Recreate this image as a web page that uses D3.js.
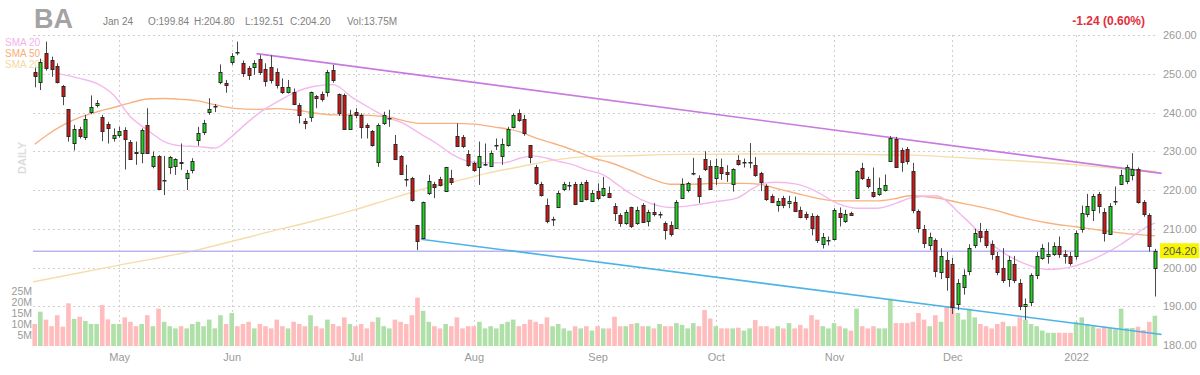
<!DOCTYPE html>
<html>
<head>
<meta charset="utf-8">
<script src="https://cdn.jsdelivr.net/npm/d3@7"></script>
<style>
  body { margin: 0; background: #fff; }
  svg { font-family: Arial, "Liberation Sans", sans-serif; }
</style>
</head>
<body>
<svg id="chart" width="1200" height="375"></svg>
<script>
// BA daily, Apr 12 2021 .. Jan 24 2022 (one entry per trading day)

// x axis: month labels and the trading-day index where each month starts
const months = ["May", "Jun", "Jul", "Aug", "Sep", "Oct", "Nov", "Dec", "2022"];
const monthIdx = [15, 35, 57, 78, 100, 121, 142, 163, 185];

const priceTicks = [180, 190, 200, 210, 220, 230, 240, 250, 260];
const volTicks = [5, 10, 15, 20, 25];

const opens = [
  250.5, 248.0, 255.3, 253.5, 252.0, 246.8, 240.8, 232.2, 235.8, 233.6,
  240.1, 241.9, 238.9, 237.0, 233.4, 234.1, 235.5, 232.4, 229.7, 229.5,
  236.8, 226.2, 228.8, 222.6, 225.9, 226.2, 227.3, 223.0, 225.2, 232.9,
  234.8, 240.0, 241.5, 248.0, 247.5, 253.1, 255.7, 252.9, 251.6, 251.6,
  253.7, 251.1, 251.8, 250.5, 246.5, 245.3, 245.4, 241.9, 237.9, 238.8,
  244.3, 244.8, 245.4, 251.0, 244.8, 244.5, 235.9, 240.2, 239.4, 236.8,
  235.1, 227.3, 237.4, 238.5, 232.0, 228.8, 222.8, 223.0, 211.0, 207.8,
  219.3, 221.6, 222.8, 219.7, 223.0, 233.9, 233.6, 229.3, 227.0, 226.0,
  226.6, 226.2, 231.4, 228.8, 231.6, 236.4, 239.8, 238.2, 231.6, 226.0,
  221.5, 216.1, 212.4, 215.7, 220.2, 221.3, 221.5, 217.2, 222.1, 217.2,
  219.8, 218.7, 219.3, 216.0, 213.5, 211.5, 215.5, 211.5, 216.2, 212.1,
  214.4, 213.6, 211.5, 211.0, 210.3, 218.0, 219.8, 224.4, 223.2, 228.1,
  226.2, 223.2, 226.0, 224.7, 221.5, 227.7, 227.0, 227.0, 226.4, 224.3,
  221.1, 218.5, 216.2, 217.9, 216.6, 216.8, 214.9, 213.8, 213.4, 213.2,
  206.3, 207.1, 207.5, 214.0, 211.9, 214.0, 218.0, 225.6, 222.8, 219.6,
  219.1, 220.0, 227.4, 233.2, 230.3, 230.7, 225.0, 214.5, 210.0, 206.0,
  207.0, 199.0, 202.0, 201.0, 190.5, 195.0, 199.0, 206.0, 209.5, 209.5,
  206.0, 203.0, 200.0, 197.0, 201.0, 196.0, 190.0, 191.0, 198.0, 202.5,
  203.0, 203.5, 205.5, 203.5, 203.0, 203.0, 210.0, 214.0, 215.0, 219.0,
  214.2, 208.8, 217.0, 221.7, 222.5, 224.0, 225.5, 217.0, 213.5, 199.84
];
const highs = [
  251.6, 253.9, 258.3, 254.4, 252.7, 247.1, 240.9, 236.8, 236.3, 239.4,
  244.4, 243.2, 239.4, 237.6, 235.9, 236.3, 236.2, 232.9, 232.5, 235.9,
  241.1, 229.9, 229.0, 228.8, 228.8, 228.2, 232.0, 225.2, 228.2, 236.3,
  238.1, 243.7, 242.2, 252.4, 248.4, 255.3, 258.3, 253.4, 252.0, 253.5,
  254.8, 252.7, 254.8, 251.4, 248.8, 248.4, 246.2, 242.4, 238.5, 245.4,
  244.5, 245.4, 251.0, 252.3, 244.9, 244.9, 240.7, 241.1, 239.8, 237.2,
  235.5, 237.2, 240.2, 240.7, 234.2, 229.0, 226.5, 223.4, 211.0, 217.0,
  223.9, 222.1, 223.4, 226.0, 225.2, 237.2, 234.2, 230.3, 227.3, 232.5,
  232.0, 230.2, 233.3, 233.3, 236.3, 239.8, 240.8, 239.4, 231.6, 226.5,
  222.1, 217.8, 213.1, 219.8, 222.1, 222.1, 222.1, 222.1, 222.6, 220.0,
  221.7, 223.4, 220.9, 216.6, 214.0, 214.9, 215.7, 215.7, 216.6, 214.9,
  216.6, 214.4, 211.9, 211.9, 217.4, 223.0, 222.1, 228.3, 223.8, 230.0,
  227.7, 228.1, 228.1, 226.4, 225.6, 229.0, 228.1, 232.1, 228.5, 224.7,
  221.5, 218.9, 217.9, 218.5, 218.5, 218.3, 215.7, 214.4, 214.0, 213.6,
  208.9, 208.0, 215.3, 215.5, 214.9, 214.4, 225.1, 227.0, 223.4, 225.8,
  223.2, 224.0, 233.9, 233.7, 230.9, 231.1, 227.0, 215.0, 211.0, 209.0,
  207.5, 205.0, 204.0, 202.5, 197.0, 199.5, 206.0, 210.0, 211.5, 210.0,
  207.0, 204.0, 205.0, 203.0, 203.0, 197.0, 192.0, 198.5, 204.0, 206.0,
  206.5, 206.5, 208.0, 204.5, 204.0, 209.5, 216.0, 219.0, 219.0, 219.5,
  215.3, 216.6, 220.9, 225.2, 226.5, 229.5, 225.8, 217.4, 214.0, 204.80
];
const lows = [
  246.5, 245.8, 250.8, 249.2, 247.5, 241.9, 232.5, 230.2, 233.3, 232.9,
  239.6, 241.3, 232.6, 232.0, 232.5, 233.5, 225.3, 227.9, 226.5, 226.9,
  229.3, 225.6, 220.0, 218.7, 224.1, 223.9, 225.2, 220.0, 224.3, 231.4,
  234.2, 239.4, 240.1, 247.3, 245.1, 252.3, 254.8, 249.2, 248.4, 249.7,
  249.7, 246.7, 247.5, 246.2, 244.8, 244.9, 241.9, 237.2, 235.7, 237.6,
  241.1, 242.8, 244.1, 247.7, 239.1, 235.5, 235.5, 238.5, 233.3, 233.3,
  231.2, 226.0, 236.8, 236.3, 227.7, 223.9, 220.9, 217.0, 204.5, 207.3,
  218.7, 217.9, 220.9, 219.5, 221.3, 231.2, 230.8, 226.0, 224.7, 221.3,
  226.2, 226.0, 230.3, 226.5, 231.2, 235.9, 237.6, 234.0, 226.9, 221.3,
  218.3, 211.4, 210.7, 215.3, 219.7, 220.0, 216.1, 217.0, 217.3, 217.0,
  217.4, 218.3, 217.9, 212.0, 210.5, 211.0, 210.2, 211.0, 211.5, 210.6,
  213.2, 212.7, 207.2, 208.0, 210.2, 217.7, 219.4, 223.8, 216.6, 224.9,
  220.0, 221.3, 222.6, 222.1, 219.6, 226.3, 225.8, 225.6, 223.4, 219.7,
  217.2, 216.6, 214.4, 215.3, 215.3, 214.3, 212.7, 212.3, 208.3, 206.3,
  204.9, 205.7, 207.0, 210.6, 211.5, 213.4, 217.9, 222.6, 220.4, 218.0,
  218.5, 219.6, 227.3, 225.8, 224.7, 226.6, 214.0, 209.0, 205.0, 204.5,
  197.5, 197.0, 194.0, 188.0, 189.0, 193.0, 198.0, 205.0, 206.5, 205.0,
  202.0, 198.0, 196.0, 195.0, 196.0, 189.0, 186.5, 190.0, 197.0, 202.0,
  201.0, 203.0, 202.5, 201.0, 200.5, 202.0, 209.0, 213.0, 212.0, 214.0,
  206.7, 208.4, 216.1, 221.3, 221.5, 222.5, 216.5, 213.1, 204.1, 192.51
];
const closes = [
  249.5, 253.1, 251.4, 251.1, 248.0, 244.1, 233.8, 235.7, 233.9, 238.2,
  241.3, 242.5, 235.3, 236.0, 234.1, 235.1, 233.3, 228.1, 229.4, 235.5,
  229.6, 228.8, 220.4, 222.7, 228.5, 227.9, 227.1, 224.3, 227.6, 234.8,
  237.2, 240.8, 241.6, 250.5, 247.1, 254.7, 255.6, 250.3, 249.8, 252.7,
  250.3, 247.9, 248.4, 247.1, 245.3, 246.5, 242.4, 239.4, 237.4, 245.2,
  243.8, 243.5, 250.5, 248.4, 239.8, 235.7, 239.4, 239.5, 236.3, 236.2,
  231.6, 236.8, 239.4, 238.6, 228.2, 224.1, 222.7, 217.4, 206.9, 217.0,
  222.4, 220.7, 221.3, 225.9, 221.9, 231.4, 231.4, 226.5, 225.2, 228.9,
  226.7, 229.6, 231.5, 232.0, 235.7, 239.4, 238.1, 234.5, 228.6, 221.9,
  218.7, 212.1, 212.5, 219.3, 221.5, 221.4, 216.4, 221.5, 217.6, 219.3,
  217.9, 220.4, 218.3, 214.2, 211.4, 214.3, 210.6, 214.9, 211.9, 214.4,
  213.9, 213.7, 209.7, 208.6, 217.0, 221.5, 221.7, 224.5, 218.6, 225.4,
  220.3, 226.2, 224.5, 224.3, 225.4, 226.6, 227.1, 227.1, 223.8, 222.1,
  217.7, 217.0, 217.2, 216.2, 217.2, 214.6, 213.2, 212.9, 210.2, 206.9,
  208.0, 207.2, 214.9, 212.9, 213.8, 213.6, 224.9, 223.0, 221.1, 218.5,
  220.6, 221.3, 233.4, 226.0, 227.1, 227.7, 215.0, 210.0, 206.5, 208.0,
  199.0, 203.0, 197.5, 190.0, 196.0, 198.0, 205.0, 209.0, 208.0, 206.0,
  203.5, 199.0, 197.0, 202.0, 197.0, 190.0, 190.5, 198.0, 203.0, 205.0,
  203.5, 205.5, 203.5, 203.0, 201.3, 209.0, 214.0, 216.0, 218.5, 216.0,
  208.8, 215.9, 217.1, 223.9, 226.0, 225.5, 217.0, 213.8, 205.44, 204.20
];
// volume in millions
const volumes = [
  10, 15.6, 12, 9, 14, 8.8, 19.4, 12.3, 13.3, 11.4,
  10, 10, 18.6, 12.1, 10, 10, 13, 11, 9, 10,
  14, 9, 17, 11, 9, 8, 9, 8, 10, 11,
  9, 12, 8, 14, 10, 15, 9, 10, 11, 8,
  10, 9, 8, 12, 9, 8, 11, 10, 9, 14,
  9, 8, 12, 10, 9, 13, 10, 9, 10, 8,
  11, 13, 9, 8, 12, 11, 10, 14, 22, 16,
  11, 9, 8, 10, 9, 13, 8, 9, 9, 11,
  8, 9, 8, 10, 11, 12, 9, 10, 12, 11,
  10, 13, 9, 10, 8, 7, 9, 8, 9, 7,
  9, 8, 8, 13.3, 9, 9, 10, 10.4, 9, 9,
  8, 10, 9, 9, 10.4, 9.6, 8, 10.4, 9, 16.4,
  12.5, 9, 8, 8, 8, 8.3, 7, 8, 11.8, 9,
  9, 8, 9, 8, 10.4, 8, 9.6, 8, 14, 12,
  9, 8, 10.4, 9, 8, 7, 17, 9, 8, 9,
  8, 8, 21.5, 10.4, 10.4, 10.4, 11, 15, 12, 9,
  14, 11, 18, 20, 15, 12, 17, 13, 10, 9,
  8, 10, 11, 9, 9, 13, 12, 10, 9, 7,
  6, 6, 6, 6, 6, 11, 13, 10, 9, 8,
  8.8, 8.2, 7.6, 17, 8.2, 8.2, 8.8, 7.3, 11, 13.75
];

// moving averages: [day index, value]
const sma20Idx = [4, 8, 11, 14, 17, 20, 23, 26, 29, 32, 35, 37.6, 40.6, 43.6, 46.5, 49.5, 53, 56.6, 59.6, 62.5,
  65.5, 68.4, 71.4, 74.4, 77.3, 80.3, 83.3, 86.2, 88.6, 91, 93.3, 95.7, 98, 101, 104, 105.8, 109.3, 112.9, 117.6,
  121.1, 124.7, 127.6, 129.4, 131.8, 135.4, 138.9, 142.5, 146, 149.6, 153.1, 155.5, 160, 165, 170, 175, 180, 185,
  190, 193, 195, 197, 199];
const sma20Val = [250.1, 248.8, 247.5, 244.5, 238.9, 235.5, 232.5, 231.4, 231.2, 230.8, 233.8, 237.2, 240.6, 243.2,
  245.4, 246.7, 247.2, 243.7, 241.1, 238.8, 237.2, 234.6, 232.0, 229.0, 227.3, 227.0, 227.0, 228.2, 228.8, 228.2,
  227.3, 226.5, 225.2, 223.9, 220.9, 219.1, 216.6, 215.5, 216.2, 217.0, 217.9, 220.4, 221.7, 222.0, 221.5, 219.6,
  216.6, 215.3, 215.3, 216.6, 217.9, 218.5, 213.0, 206.0, 201.5, 199.5, 200.5, 203.5, 206.0, 208.0, 210.0, 211.5];
const sma50Idx = [0, 2.2, 5.1, 8.1, 11.1, 14, 17, 20, 23, 26, 29, 32, 36, 40, 43, 47, 50, 53, 57, 62.5, 68.4, 74.4,
  78, 81.5, 86.2, 89.2, 92.2, 95.7, 99.3, 102.2, 105.8, 109.3, 112.9, 117, 121.1, 125.9, 128.8, 131.8, 135.4, 138.9,
  142.5, 146, 149.6, 152.6, 155.5, 160, 165, 170, 175, 180, 185, 190, 195, 199];
const sma50Val = [231.8, 234.2, 236.8, 238.8, 240.2, 241.3, 242.5, 243.5, 243.6, 243.4, 243.0, 242.0, 241.0, 240.8,
  241.0, 240.5, 239.8, 239.4, 239.4, 238.9, 237.2, 237.2, 237.0, 236.3, 235.0, 233.3, 232.0, 230.3, 228.2, 227.1,
  225.1, 223.0, 221.5, 221.5, 221.7, 221.7, 221.5, 220.4, 219.1, 217.9, 217.2, 217.2, 217.2, 217.7, 218.5, 218.0,
  216.5, 215.0, 213.0, 211.5, 210.5, 209.5, 208.6, 208.2];
const sma200Idx = [-0.3, 15, 28.8, 40, 52.4, 56.6, 62.5, 68.4, 74.4, 80.3, 86.2, 92.2, 98, 104, 115, 130, 145, 156,
  165, 175, 185, 192, 199.3];
const sma200Val = [196.3, 200.6, 204.5, 208.6, 213.1, 214.8, 217.4, 220.0, 222.1, 224.3, 226.0, 227.7, 228.6, 228.8,
  229.2, 229.3, 229.2, 229.0, 228.3, 227.5, 226.5, 225.6, 224.8];

// drawn trend lines: [start, end]
const upperIdx = [39.4, 200.2], upperVal = [255.2, 224.3];
const lowerIdx = [68.6, 200.2], lowerVal = [207.3, 182.7];
const lastPrice = 204.20;

if (opens.length !== 200 || highs.length !== 200 || lows.length !== 200 || closes.length !== 200 || volumes.length !== 200)
  console.error("length mismatch", opens.length, highs.length, lows.length, closes.length, volumes.length);

const svg = d3.select("#chart");
const plotLeft = 33, plotRight = 1158, plotTop = 35, plotBottom = 345;

const x = d3.scaleLinear().domain([0, 199]).range([34.7, 1154.9]);
const y = d3.scaleLinear().domain([180, 260]).range([plotBottom, plotTop]);
const yv = d3.scaleLinear().domain([0, 25]).range([346, 291]);
const px = v => Math.round(v) + 0.5;

const days = d3.range(opens.length).map(i => ({
  i: i, o: opens[i], h: highs[i], l: lows[i], c: closes[i], v: volumes[i]
}));

// grid
const grid = svg.append("g").attr("stroke", "#cfcfcf").attr("stroke-dasharray", "2,3").attr("stroke-width", 1);
grid.selectAll("line.h").data(priceTicks.filter(d => d > 180)).join("line")
  .attr("class", "h")
  .attr("x1", plotLeft).attr("x2", plotRight)
  .attr("y1", d => px(y(d))).attr("y2", d => px(y(d)));
grid.selectAll("line.v").data(monthIdx).join("line")
  .attr("class", "v")
  .attr("x1", d => px(x(d))).attr("x2", d => px(x(d)))
  .attr("y1", plotTop).attr("y2", plotBottom);

// legend + DAILY
const legend = [["SMA 20", "#f3b3ea"], ["SMA 50", "#f8ad78"], ["SMA 200", "#f5d9a0"]];
svg.append("g").selectAll("text").data(legend).join("text")
  .attr("x", 5).attr("y", (d, i) => 46 + i * 11)
  .attr("fill", d => d[1])
  .style("font-size", "10px")
  .text(d => d[0]);
svg.append("text")
  .attr("transform", "translate(26,158) rotate(-90)")
  .attr("text-anchor", "middle")
  .attr("fill", "#dcdcdc")
  .style("font-size", "11px").style("font-weight", "bold")
  .text("DAILY");

// volume
svg.append("g").selectAll("rect").data(days).join("rect")
  .attr("x", d => x(d.i) - 2.3)
  .attr("width", 4.6)
  .attr("y", d => yv(d.v))
  .attr("height", d => yv(0) - yv(d.v))
  .attr("fill", d => d.c >= d.o ? "#aee0a8" : "#ffbcbc");

// moving averages
const line = d3.line().x(d => x(d[0])).y(d => y(d[1])).curve(d3.curveMonotoneX);
const smas = [
  [d3.zip(sma200Idx, sma200Val), "#f6dcaa"],
  [d3.zip(sma50Idx, sma50Val), "#f8b180"],
  [d3.zip(sma20Idx, sma20Val), "#f4b8ee"]
];
svg.append("g").selectAll("path").data(smas).join("path")
  .attr("d", d => line(d[0]))
  .attr("fill", "none")
  .attr("stroke", d => d[1])
  .attr("stroke-width", 1.4);

// last price level and trend lines
svg.append("line")
  .attr("x1", plotLeft).attr("x2", plotRight)
  .attr("y1", y(lastPrice)).attr("y2", y(lastPrice))
  .attr("stroke", "#bbb4ef").attr("stroke-width", 1.6);
const trends = [
  [d3.zip(upperIdx, upperVal), "#c97ae0"],
  [d3.zip(lowerIdx, lowerVal), "#4db3e6"]
];
svg.append("g").selectAll("path").data(trends).join("path")
  .attr("d", d => d3.line().x(p => x(p[0])).y(p => y(p[1]))(d[0]))
  .attr("fill", "none")
  .attr("stroke", d => d[1])
  .attr("stroke-width", 1.6);

// candles
const candles = svg.append("g");
candles.selectAll("line").data(days).join("line")
  .attr("x1", d => px(x(d.i))).attr("x2", d => px(x(d.i)))
  .attr("y1", d => y(d.h)).attr("y2", d => y(d.l))
  .attr("stroke", "#4a4a4a").attr("stroke-width", 1);
candles.selectAll("rect").data(days).join("rect")
  .attr("x", d => px(x(d.i)) - 1.5)
  .attr("width", 3)
  .attr("y", d => Math.round(y(Math.max(d.o, d.c))) + 0.5)
  .attr("height", d => Math.max(Math.round(Math.abs(y(d.o) - y(d.c))), 0.5))
  .attr("fill", d => Math.abs(d.c - d.o) < 0.25 ? "#333" : (d.c > d.o ? "#19d919" : "#dd1010"))
  .attr("stroke", "#2a2a2a").attr("stroke-width", 1);

// axes
const axisText = g => g.selectAll("text")
  .attr("fill", "#9a9a9a").style("font-size", "11px").style("font-family", "Arial, 'Liberation Sans', sans-serif");
svg.append("g").attr("transform", `translate(${plotRight},0)`)
  .call(d3.axisRight(y).tickValues(priceTicks).tickFormat(d3.format(".2f")).tickSize(0).tickPadding(5))
  .call(g => g.select(".domain").remove())
  .call(axisText);
svg.append("g").attr("transform", `translate(0,${plotBottom + 4})`)
  .call(d3.axisBottom(x).tickValues(monthIdx).tickFormat((d, i) => months[i]).tickSize(0).tickPadding(4))
  .call(g => g.select(".domain").remove())
  .call(axisText);
svg.append("g").attr("transform", `translate(${plotLeft},0)`)
  .call(d3.axisLeft(yv).tickValues(volTicks).tickFormat(d => d + "M").tickSize(0).tickPadding(1))
  .call(g => g.select(".domain").remove())
  .call(axisText)
  .selectAll("text").style("font-size", "10.5px");

// last price tag
const tag = svg.append("g").attr("transform", `translate(${plotRight + 2},${y(lastPrice)})`);
tag.append("rect").attr("x", 0).attr("y", -8).attr("width", 39).attr("height", 15).attr("fill", "#f7f500");
tag.append("text").attr("x", 3).attr("y", 4).attr("fill", "#555")
  .style("font-size", "11px").text(d3.format(".2f")(lastPrice));

// header
svg.append("text").attr("x", 34).attr("y", 28).attr("fill", "#a3a3a3")
  .style("font-size", "27px").style("font-weight", "bold").text("BA");
const info = [["Jan 24", 103], ["O:199.84", 148], ["H:204.80", 194], ["L:192.51", 245], ["C:204.20", 290], ["Vol:13.75M", 347]];
svg.append("g").selectAll("text").data(info).join("text")
  .attr("x", d => d[1]).attr("y", 25)
  .attr("fill", "#808080").style("font-size", "10px")
  .text(d => d[0]);
svg.append("text").attr("x", 1145).attr("y", 25).attr("text-anchor", "end")
  .attr("fill", "#e2303a").style("font-size", "12px").style("font-weight", "bold")
  .text("-1.24 (0.60%)");
</script>
</body>
</html>
